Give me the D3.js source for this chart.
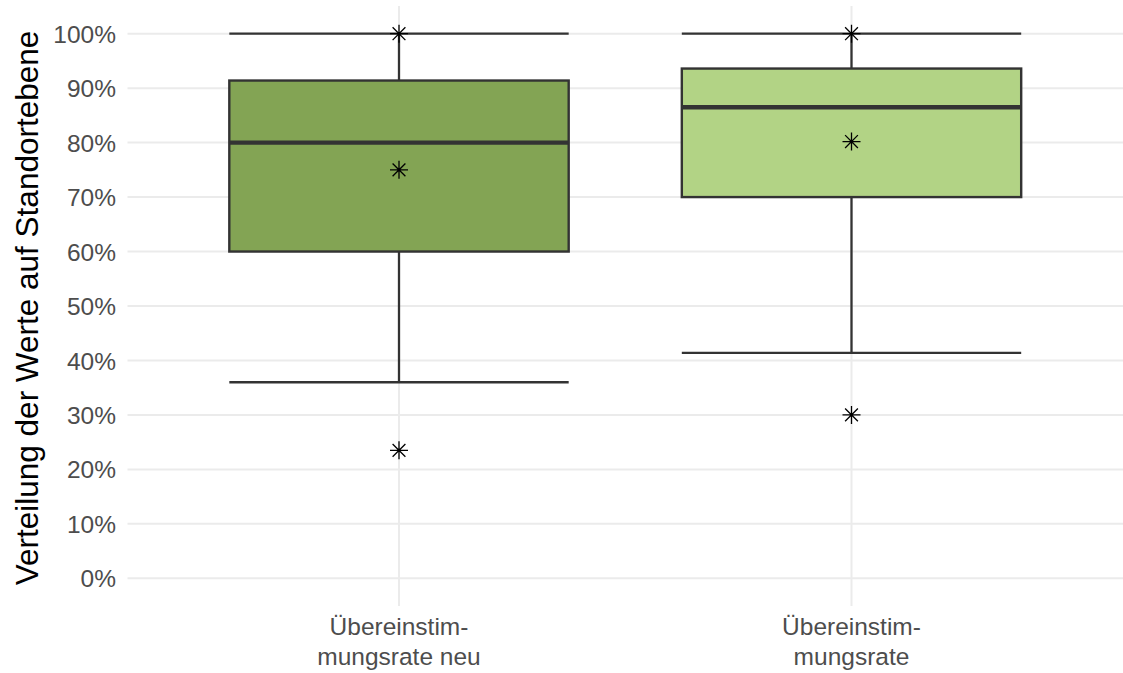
<!DOCTYPE html>
<html>
<head>
<meta charset="utf-8">
<script src="https://cdn.jsdelivr.net/npm/d3@7"></script>
<style>
  html, body { margin: 0; padding: 0; background: #ffffff; }
  svg { display: block; font-family: "Liberation Sans", Arial, Helvetica, sans-serif; }
</style>
</head>
<body>
<svg id="chart" width="1123" height="673"></svg>
<script>
// Categories (two-line labels) and their box colours
const categories = ["Übereinstimmungsrate neu", "Übereinstimmungsrate"];
const categoryLines = [["Übereinstim-", "mungsrate neu"], ["Übereinstim-", "mungsrate"]];
const fills = ["#83a454", "#b2d385"];

// Five-number summaries in percent
const whiskerLow = [36.0, 41.4];
const q1 = [60.0, 70.0];
const median = [80.0, 86.5];
const q3 = [91.4, 93.6];
const whiskerHigh = [100.0, 100.0];

// Marked summary points (max, mean, min) in percent
const maxPoints = [100.0, 100.0];
const meanPoints = [75.0, 80.2];
const minPoints = [23.5, 30.0];

// Y axis ticks
const yTicks = [0, 10, 20, 30, 40, 50, 60, 70, 80, 90, 100];

const svg = d3.select("#chart");
const panel = { left: 127.5, right: 1123, top: 6, bottom: 606 };

const y = d3.scaleLinear().domain([0, 100]).range([578.3, 33.7]);

// Discrete axis: categories at 1..n, 0.6 units of padding on each side
const xPos = d3.scaleLinear()
  .domain([0.4, categories.length + 0.6])
  .range([panel.left, panel.right]);
const cx = i => xPos(i + 1);
const unit = xPos(1) - xPos(0);
const boxW = 0.75 * unit;

const grid = svg.append("g").attr("class", "grid");
grid.selectAll("line.h")
  .data(yTicks).join("line")
  .attr("class", "h")
  .attr("x1", panel.left).attr("x2", panel.right)
  .attr("y1", d => y(d)).attr("y2", d => y(d))
  .attr("stroke", "#ebebeb").attr("stroke-width", 2);
grid.selectAll("line.v")
  .data(categories).join("line")
  .attr("class", "v")
  .attr("x1", (d, i) => cx(i)).attr("x2", (d, i) => cx(i))
  .attr("y1", panel.top).attr("y2", panel.bottom)
  .attr("stroke", "#ebebeb").attr("stroke-width", 2);

// Y axis labels
const yAxis = d3.axisLeft(y).tickValues(yTicks).tickFormat(d => d + "%").tickSize(0).tickPadding(0);
const yg = svg.append("g").attr("transform", "translate(116,0)").call(yAxis);
yg.select(".domain").remove();
yg.selectAll("text")
  .attr("fill", "#4d4d4d")
  .attr("font-size", 24.5)
  .attr("font-family", "Liberation Sans, Arial, sans-serif")
  .attr("dy", "0.35em");

// X axis labels (two lines each)
const xl = svg.append("g");
categoryLines.forEach((lines, i) => {
  const t = xl.append("text")
    .attr("x", cx(i))
    .attr("y", 635)
    .attr("text-anchor", "middle")
    .attr("fill", "#4d4d4d")
    .attr("font-size", 24.5);
  lines.forEach((ln, k) => {
    t.append("tspan").attr("x", cx(i)).attr("y", 635 + k * 29.5).text(ln);
  });
});

// Y axis title
svg.append("text")
  .attr("transform", `translate(37.5,${(y(0) + y(100)) / 2 + 2}) rotate(-90)`)
  .attr("text-anchor", "middle")
  .attr("fill", "#000000")
  .attr("font-size", 31.5)
  .text("Verteilung der Werte auf Standortebene");

// Boxplots
const boxes = svg.append("g");
categories.forEach((c, i) => {
  const g = boxes.append("g");
  const x0 = cx(i) - boxW / 2, x1 = cx(i) + boxW / 2;
  const stroke = "#333333";
  // whisker stems
  g.append("line").attr("x1", cx(i)).attr("x2", cx(i))
    .attr("y1", y(whiskerHigh[i])).attr("y2", y(q3[i]))
    .attr("stroke", stroke).attr("stroke-width", 2.3);
  g.append("line").attr("x1", cx(i)).attr("x2", cx(i))
    .attr("y1", y(q1[i])).attr("y2", y(whiskerLow[i]))
    .attr("stroke", stroke).attr("stroke-width", 2.3);
  // whisker caps
  [whiskerHigh[i], whiskerLow[i]].forEach(v => {
    g.append("line").attr("x1", x0).attr("x2", x1)
      .attr("y1", y(v)).attr("y2", y(v))
      .attr("stroke", stroke).attr("stroke-width", 2.3);
  });
  // box
  g.append("rect")
    .attr("x", x0).attr("width", boxW)
    .attr("y", y(q3[i])).attr("height", y(q1[i]) - y(q3[i]))
    .attr("fill", fills[i]).attr("stroke", stroke).attr("stroke-width", 2.4);
  // median
  g.append("line").attr("x1", x0).attr("x2", x1)
    .attr("y1", y(median[i])).attr("y2", y(median[i]))
    .attr("stroke", stroke).attr("stroke-width", 4.4);
});

// Asterisk markers (plus + cross)
const star = (px, py) => {
  const a = 9, b = 6.4;
  return `M${px - a},${py}L${px + a},${py}M${px},${py - a}L${px},${py + a}` +
         `M${px - b},${py - b}L${px + b},${py + b}M${px - b},${py + b}L${px + b},${py - b}`;
};
const pts = [];
categories.forEach((c, i) => {
  pts.push({ i, v: maxPoints[i] }, { i, v: meanPoints[i] }, { i, v: minPoints[i] });
});
svg.append("g").selectAll("path")
  .data(pts).join("path")
  .attr("d", d => star(cx(d.i), y(d.v)))
  .attr("fill", "none")
  .attr("stroke", "#000000")
  .attr("stroke-width", 1.3);
</script>
</body>
</html>
